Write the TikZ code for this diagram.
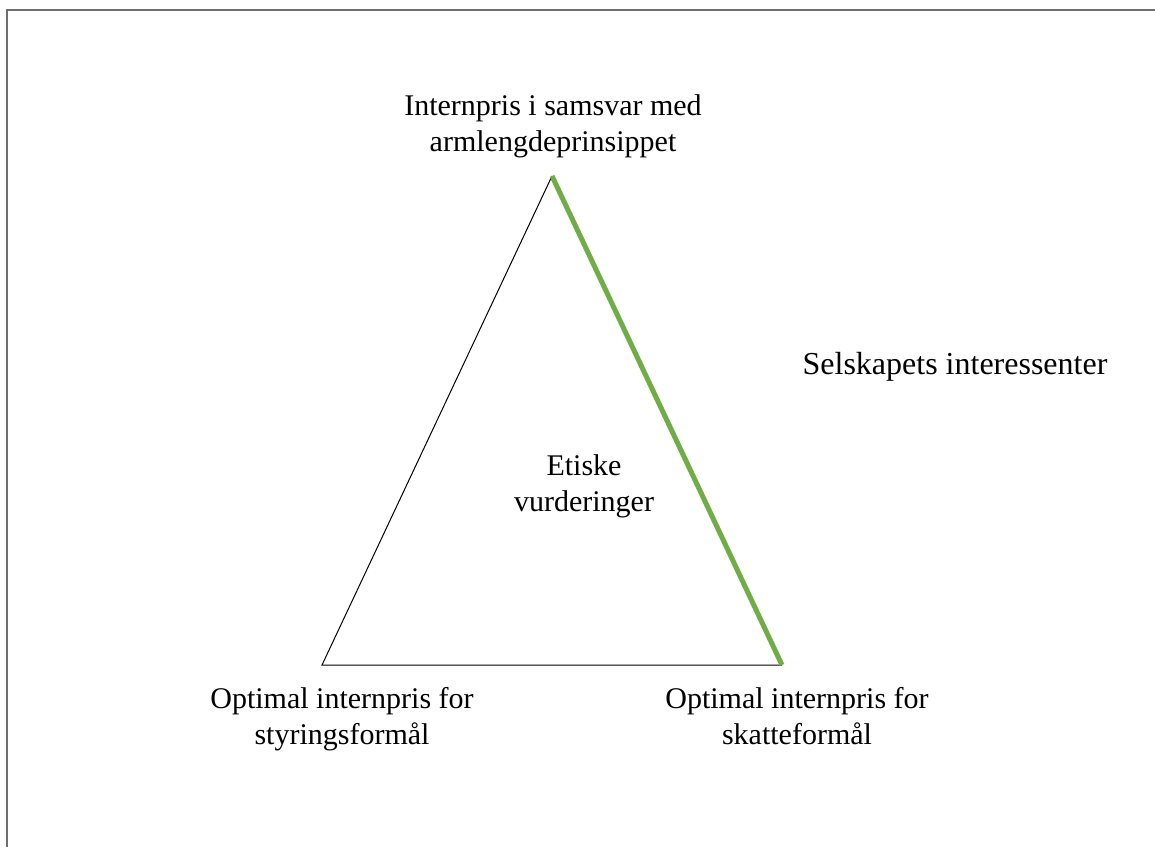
\documentclass[tikz,border=0pt]{standalone}
\usepackage{fontspec}
\setmainfont{Liberation Serif}
\definecolor{officegreen}{RGB}{112,173,71}
\definecolor{framegray}{RGB}{110,110,110}
\begin{document}
\begin{tikzpicture}[x=1pt,y=-1pt,
  label/.style={align=center,inner sep=0pt,text depth=7pt,font=\fontsize{30}{36}\selectfont},
  edge/.style={draw=black,line width=1pt},
  strong/.style={draw=officegreen,line width=5pt}]
\useasboundingbox (0,0) rectangle (1155,847);
% frame on the top and left edges
\coordinate (fb) at (7,847);
\coordinate (fc) at (7,10);
\coordinate (fr) at (1155,10);
\draw[framegray,line width=2pt] (fb) -- (fc) -- (fr);
% triangle corners
\coordinate (top) at (552,176);
\coordinate (bl) at (322,665);
\coordinate (br) at (782,665);
\draw[edge] (br) -- (bl) -- (top);
\draw[strong] (top) -- (br);
% labels
\node[label] (arm) at (553,127) {Internpris i samsvar med\\armlengdeprinsippet};
\node[label] (eth) at (584,487) {Etiske\\vurderinger};
\node[label,font=\fontsize{32}{36}\selectfont] (stake) at (955,367) {Selskapets interessenter};
\node[label] (steer) at (342,719) {Optimal internpris for\\styringsformål};
\node[label] (tax) at (797,719) {Optimal internpris for\\skatteformål};
\end{tikzpicture}
\end{document}
